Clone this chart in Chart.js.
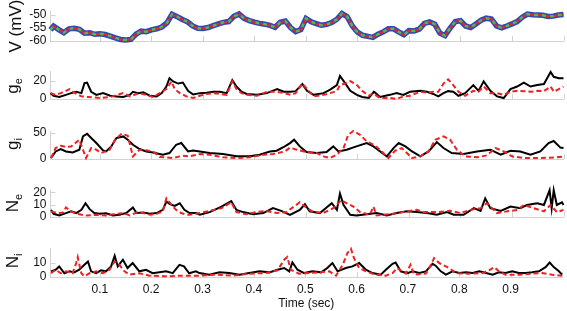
<!DOCTYPE html>
<html>
<head>
<meta charset="utf-8">
<script src="https://cdn.jsdelivr.net/npm/chart.js@4/dist/chart.umd.min.js"></script>
<style>
  html, body { margin: 0; padding: 0; background: #fff; }
  #wrap { position: relative; width: 567px; height: 311px; overflow: hidden; font-family: "Liberation Sans", Arial, sans-serif; }
  #wrap canvas { position: absolute; left: 0; top: 0; }
  .ylab { position: absolute; transform: translate(-50%, -50%) rotate(-90deg); white-space: nowrap; font-size: 17px; color: #111; line-height: 1; }
  .ylab sub { font-size: 11px; vertical-align: -4px; }
</style>
</head>
<body>
<div id="wrap">
  <canvas id="pV" width="567" height="311"></canvas>
  <canvas id="pGe" width="567" height="311"></canvas>
  <canvas id="pGi" width="567" height="311"></canvas>
  <canvas id="pNe" width="567" height="311"></canvas>
  <canvas id="pNi" width="567" height="311"></canvas>
  <div class="ylab" style="left:15px;top:26px">V (mV)</div>
  <div class="ylab" style="left:14px;top:86px">g<sub>e</sub></div>
  <div class="ylab" style="left:14px;top:144px">g<sub>i</sub></div>
  <div class="ylab" style="left:14px;top:203px">N<sub>e</sub></div>
  <div class="ylab" style="left:14px;top:261px">N<sub>i</sub></div>
</div>
<script>
// tick values / labels
const xTicks = [0.1, 0.2, 0.3, 0.4, 0.5, 0.6, 0.7, 0.8, 0.9, 1.0];
const xTickLabels = ['0.1', '0.2', '0.3', '0.4', '0.5', '0.6', '0.7', '0.8', '0.9', ''];
const vTicks = [-60, -55, -50];
const geTicks = [0, 20];
const giTicks = [0, 50];
const neTicks = [0, 10, 20];
const niTicks = [0, 10];

// membrane potential (same trace drawn three times)
const vTime = [0.004, 0.01, 0.02, 0.03, 0.04, 0.05, 0.06, 0.07, 0.08, 0.09, 0.1, 0.11, 0.12, 0.13, 0.14, 0.15, 0.16, 0.17, 0.18, 0.19, 0.2,
  0.21, 0.22, 0.23, 0.24, 0.25, 0.26, 0.27, 0.28, 0.29, 0.3, 0.31, 0.32, 0.33, 0.34, 0.35, 0.36, 0.37, 0.38, 0.39, 0.4,
  0.41, 0.42, 0.43, 0.44, 0.45, 0.46, 0.47, 0.48, 0.49, 0.5, 0.51, 0.52, 0.53, 0.54, 0.55, 0.56, 0.57, 0.58, 0.59, 0.6,
  0.61, 0.62, 0.63, 0.64, 0.65, 0.66, 0.67, 0.68, 0.69, 0.7, 0.71, 0.72, 0.73, 0.74, 0.75, 0.76, 0.77, 0.78, 0.79, 0.8,
  0.81, 0.82, 0.83, 0.84, 0.85, 0.86, 0.87, 0.88, 0.89, 0.9, 0.91, 0.92, 0.93, 0.94, 0.95, 0.96, 0.97, 0.98, 0.99, 1.0];
const vTrace = [-55.7, -54.3, -55.6, -56.8, -55.3, -55.1, -55.5, -57.0, -56.8, -57.4, -57.2, -57.5, -58.1, -58.8, -59.4, -59.6, -59.4, -57.4, -56.2, -56.4, -55.7,
  -55.3, -54.6, -53.0, -49.7, -50.6, -51.7, -52.6, -54.2, -55.1, -55.2, -54.8, -54.1, -53.4, -52.8, -52.5, -50.5, -49.6, -51.3, -52.1, -52.7,
  -53.2, -53.5, -54.0, -54.7, -52.8, -52.3, -54.8, -56.4, -55.6, -51.3, -52.6, -53.3, -53.9, -53.6, -52.9, -51.6, -49.4, -50.6, -54.2, -56.6,
  -57.8, -58.2, -58.6, -57.4, -56.5, -55.3, -55.3, -56.5, -57.6, -56.0, -56.1, -55.4, -53.2, -52.6, -53.5, -57.0, -57.9, -55.0, -52.5, -52.2,
  -54.2, -54.8, -53.4, -52.0, -51.2, -51.5, -54.2, -54.9, -54.2, -53.4, -52.5, -50.8, -49.6, -49.9, -50.0, -50.1, -50.5, -50.4, -50.0, -49.8];

// g_e
const geTimeA = [0.004, 0.01, 0.021, 0.034, 0.044, 0.054, 0.064, 0.07, 0.075, 0.083, 0.093, 0.106, 0.12, 0.132, 0.145, 0.158, 0.164, 0.174, 0.184, 0.197,
  0.21, 0.22, 0.229, 0.235, 0.242, 0.252, 0.261, 0.271, 0.281, 0.294, 0.307, 0.32, 0.333, 0.346, 0.357, 0.365, 0.375, 0.385, 0.405, 0.424,
  0.444, 0.457, 0.47, 0.48, 0.493, 0.502, 0.515, 0.534, 0.547, 0.56, 0.566, 0.576, 0.586, 0.599, 0.609, 0.622, 0.632, 0.644, 0.663, 0.676,
  0.689, 0.702, 0.722, 0.735, 0.747, 0.757, 0.767, 0.776, 0.786, 0.796, 0.809, 0.825, 0.835, 0.845, 0.858, 0.871, 0.884, 0.897, 0.91, 0.923,
  0.936, 0.949, 0.962, 0.975, 0.981, 0.991, 1.0];
const geA = [6.5, 3.6, 2.2, 4.6, 6.5, 8, 6.5, 17.5, 18.2, 8, 4.6, 6.5, 3.6, 2.9, 2.2, 4.6, 8, 6.5, 7.3, 3.6,
  2.9, 6.5, 13.8, 23, 19.5, 17.1, 18.2, 9, 5, 6.5, 6.9, 8, 8, 6.5, 21, 13.8, 8, 5.6, 4.6, 6.5,
  11, 8, 8, 8.7, 16.5, 9, 4.6, 6.5, 10.3, 15.4, 25.5, 17.5, 9, 4.6, 2.2, 1.1, 8, 2.2, 4.6, 6.5,
  4.6, 8, 9, 8, 5.6, 2.9, 6.5, 8.7, 8, 3.6, 6.5, 15.4, 9, 19.5, 9, 2.9, 1.1, 11, 13.8, 18.2,
  13.8, 15.4, 16.5, 30, 24.6, 23, 23];
const geTimeB = [0.004, 0.014, 0.024, 0.034, 0.041, 0.05, 0.064, 0.077, 0.1, 0.12, 0.145, 0.158, 0.177, 0.19, 0.203, 0.216, 0.229, 0.239, 0.245, 0.255,
  0.268, 0.281, 0.294, 0.307, 0.32, 0.333, 0.346, 0.357, 0.365, 0.375, 0.385, 0.405, 0.424, 0.444, 0.457, 0.47, 0.48, 0.493, 0.502, 0.515,
  0.534, 0.547, 0.56, 0.566, 0.576, 0.586, 0.599, 0.609, 0.622, 0.63, 0.644, 0.663, 0.676, 0.689, 0.702, 0.722, 0.735, 0.747, 0.757, 0.767,
  0.776, 0.786, 0.796, 0.809, 0.825, 0.835, 0.845, 0.858, 0.871, 0.884, 0.897, 0.91, 0.923, 0.936, 0.949, 0.962, 0.975, 0.981, 0.991, 1.0];
const geB = [6.5, 4.6, 6.5, 9, 11, 6.9, 2.9, 2.2, 1.1, 2.2, 6.5, 2.9, 6.5, 4.6, 2.2, 6.5, 11, 19.5, 11, 6.5,
  2.9, 1.1, 3.6, 5.6, 6.5, 5.6, 4.6, 19.5, 11, 6.5, 4.6, 3.6, 8, 8, 6.5, 4.6, 6.5, 17.1, 11, 2.9,
  4.6, 6.5, 9, 15.4, 17.1, 19.8, 15.4, 9, 3.6, 6, 1.1, 1.1, 0, 2.9, 3.6, 8, 6.9, 8, 8, 17.1,
  21.8, 15.4, 8, 3.6, 9, 8, 13.8, 6.5, 6.5, 4.6, 8, 9, 8.7, 8, 9, 8.7, 13.8, 8, 11, 13.8];

// g_i
const giTimeA = [0.005, 0.014, 0.024, 0.034, 0.047, 0.06, 0.067, 0.075, 0.083, 0.093, 0.106, 0.112, 0.122, 0.132, 0.145, 0.154, 0.164, 0.177, 0.19, 0.203,
  0.222, 0.235, 0.248, 0.258, 0.271, 0.281, 0.294, 0.313, 0.339, 0.365, 0.391, 0.41, 0.43, 0.443, 0.459, 0.469, 0.477, 0.488, 0.501, 0.521,
  0.54, 0.553, 0.563, 0.579, 0.598, 0.618, 0.631, 0.644, 0.657, 0.67, 0.68, 0.693, 0.706, 0.722, 0.738, 0.754, 0.767, 0.783, 0.806, 0.832,
  0.858, 0.878, 0.897, 0.916, 0.936, 0.955, 0.971, 0.981, 0.994, 1.0];
const giA = [2, 14.6, 19.2, 14.6, 12.7, 17.9, 43.5, 48.7, 40.4, 30.8, 16.5, 14.6, 24.2, 40.4, 43.5, 37.1, 27.5, 19.2, 14.6, 12.7,
  8.3, 11.5, 27.5, 30.8, 14.6, 16.5, 14.6, 11.5, 9.6, 5.1, 5.1, 8.3, 14.6, 16, 24.3, 30.7, 37.1, 24.3, 13.4, 11.5,
  13.4, 24.3, 14.6, 17.9, 24.3, 30.7, 24.3, 14.6, 5.1, 21.1, 30.7, 24.3, 14.6, 5.1, 14.6, 32.6, 21.1, 11.5, 9.6, 14.6,
  17.9, 8.3, 16, 14.6, 8.3, 14.6, 30.7, 34.8, 22, 21.1];
const giTimeB = [0.005, 0.014, 0.024, 0.034, 0.044, 0.06, 0.067, 0.073, 0.083, 0.093, 0.102, 0.119, 0.129, 0.142, 0.154, 0.164, 0.177, 0.193, 0.206, 0.216,
  0.242, 0.261, 0.274, 0.294, 0.313, 0.339, 0.365, 0.391, 0.417, 0.436, 0.459, 0.469, 0.482, 0.501, 0.521, 0.534, 0.547, 0.56, 0.573, 0.582,
  0.592, 0.605, 0.618, 0.634, 0.647, 0.66, 0.673, 0.686, 0.696, 0.706, 0.722, 0.738, 0.751, 0.767, 0.78, 0.793, 0.809, 0.832, 0.851, 0.868,
  0.884, 0.9, 0.923, 0.955, 0.987, 1.0];
const giB = [2, 21.2, 25.6, 23, 24.2, 37.1, 17.9, 2, 21.2, 17.9, 11.5, 17.9, 37.1, 48.7, 44.8, 5, 17.9, 16.5, 12.7, 3.8,
  2, 6.3, 5.1, 9.6, 8.3, 3.2, 1.9, 3.2, 8.3, 9.6, 14.6, 22, 17.9, 13.4, 11.5, 5.1, 1.9, 8.3, 21.1, 46.7,
  54, 46.7, 33.9, 26.2, 14.6, 1.9, 16, 21.1, 11.5, 1.9, 5.1, 14.6, 37.1, 43.5, 37.1, 17.9, 5.1, 3.2, 7, 21.1,
  14.6, 5.1, 1.9, 1.9, 3.2, 4.5];

// N_e
const neTimeA = [0.005, 0.01, 0.021, 0.034, 0.044, 0.054, 0.064, 0.072, 0.08, 0.089, 0.099, 0.112, 0.125, 0.138, 0.151, 0.164, 0.171, 0.184, 0.197, 0.21,
  0.222, 0.229, 0.235, 0.245, 0.255, 0.264, 0.274, 0.287, 0.294, 0.313, 0.336, 0.355, 0.365, 0.378, 0.397, 0.417, 0.436, 0.452, 0.469, 0.488,
  0.498, 0.507, 0.527, 0.54, 0.55, 0.56, 0.566, 0.573, 0.586, 0.598, 0.618, 0.637, 0.657, 0.676, 0.696, 0.715, 0.735, 0.754, 0.774, 0.787,
  0.806, 0.826, 0.839, 0.848, 0.858, 0.878, 0.897, 0.916, 0.929, 0.949, 0.962, 0.973, 0.977, 0.981, 0.987, 0.997, 1.0];
const neA = [5.8, 2.6, 1.2, 3.2, 4.6, 3.2, 5.8, 11.2, 6.4, 3.2, 2.6, 3, 1.2, 1.8, 3.2, 7.8, 3.2, 3.6, 2.6, 3.2,
  5.8, 12.6, 10.7, 9.1, 11.2, 5.8, 3.2, 3.2, 1.8, 4, 8.5, 13, 5.8, 4, 2.3, 3.2, 7.2, 5, 1.8, 5.8,
  10.4, 4.6, 3.2, 7.7, 11.2, 5.8, 19.1, 9.8, 1.8, 1.3, 2.3, 3.2, 1.3, 3.2, 4.6, 4, 3.2, 1.8, 4, 1.8,
  1.8, 7.2, 5, 15.2, 7.2, 5, 8.5, 7.2, 9.8, 11.2, 9.8, 21.8, 7.2, 21.8, 9.8, 12, 9.8];
const neTimeB = [0.005, 0.018, 0.028, 0.034, 0.044, 0.054, 0.073, 0.093, 0.112, 0.132, 0.145, 0.158, 0.171, 0.184, 0.197, 0.21, 0.222, 0.229, 0.239, 0.248,
  0.258, 0.268, 0.274, 0.294, 0.313, 0.336, 0.355, 0.365, 0.384, 0.404, 0.423, 0.443, 0.462, 0.488, 0.498, 0.514, 0.533, 0.553, 0.569, 0.579,
  0.592, 0.605, 0.624, 0.631, 0.637, 0.663, 0.689, 0.715, 0.728, 0.754, 0.78, 0.8, 0.819, 0.839, 0.851, 0.871, 0.891, 0.91, 0.923, 0.942,
  0.962, 0.975, 0.987, 1.0];
const neB = [4.6, 3.2, 3.6, 7.8, 4.6, 2.6, 1.2, 1.8, 1.2, 2.6, 3.2, 1.2, 3.6, 3.2, 1.8, 2.6, 4.6, 15.2, 9.8, 5.8,
  3.2, 1.8, 1.8, 3.2, 5, 7.2, 12, 4, 2.3, 4, 5, 3.2, 4, 12, 8.5, 4, 3.2, 7.2, 13.8, 11.2,
  8.5, 4, 1.8, 8.5, 1.3, 2.3, 4, 5.8, 4, 4, 5, 3.2, 5.8, 7.2, 11.2, 3.2, 4.6, 5.8, 9.8, 7.2,
  4.6, 9.8, 4, 5.8];

// N_i
const niTimeA = [0.005, 0.014, 0.021, 0.031, 0.041, 0.05, 0.06, 0.07, 0.077, 0.083, 0.093, 0.102, 0.112, 0.122, 0.129, 0.135, 0.145, 0.154, 0.164, 0.177,
  0.19, 0.203, 0.216, 0.229, 0.242, 0.255, 0.264, 0.274, 0.287, 0.294, 0.313, 0.333, 0.352, 0.372, 0.391, 0.411, 0.43, 0.446, 0.459, 0.469,
  0.475, 0.485, 0.498, 0.514, 0.531, 0.543, 0.553, 0.563, 0.579, 0.592, 0.605, 0.618, 0.631, 0.647, 0.657, 0.67, 0.676, 0.686, 0.699, 0.709,
  0.722, 0.735, 0.748, 0.754, 0.764, 0.774, 0.787, 0.8, 0.813, 0.826, 0.839, 0.852, 0.865, 0.877, 0.89, 0.903, 0.916, 0.929, 0.942, 0.955,
  0.968, 0.976, 0.984, 0.994, 1.0];
const niA = [3.9, 5, 7.3, 2.6, 3.9, 3.2, 5, 8.4, 10.7, 3.9, 2.6, 4.6, 3.9, 7.3, 14.6, 7.3, 11.9, 6.2, 9.6, 3.9,
  5, 2.6, 3.2, 3.9, 2.6, 8.4, 7.3, 2.6, 3.9, 2.7, 1.6, 3.2, 2.7, 1.6, 2.7, 3.9, 3.2, 5, 6.2, 3.9,
  10, 5, 2.7, 3.9, 3.2, 6.2, 9.6, 3.9, 6.2, 7.3, 9.6, 5, 2.7, 1.6, 5, 9.1, 10, 3.9, 2.7, 3.9,
  2.7, 3.9, 9.1, 7.8, 3.9, 1.6, 3.9, 2.7, 3.2, 2.7, 3.9, 2.7, 1.6, 3.2, 2.7, 3.9, 2.7, 2.7, 3.2, 3.9,
  6.8, 10, 6.8, 3.9, 1.6];
const niTimeB = [0.005, 0.014, 0.024, 0.034, 0.047, 0.054, 0.057, 0.064, 0.07, 0.08, 0.093, 0.106, 0.119, 0.129, 0.138, 0.148, 0.158, 0.177, 0.197, 0.229,
  0.261, 0.294, 0.326, 0.358, 0.391, 0.423, 0.446, 0.459, 0.465, 0.472, 0.488, 0.507, 0.527, 0.547, 0.56, 0.573, 0.582, 0.589, 0.595, 0.605,
  0.618, 0.637, 0.657, 0.67, 0.679, 0.696, 0.705, 0.712, 0.735, 0.744, 0.751, 0.761, 0.774, 0.783, 0.793, 0.819, 0.845, 0.858, 0.868, 0.877,
  0.89, 0.916, 0.942, 0.962, 0.981, 1.0];
const niB = [2.6, 5, 2.6, 3.9, 2.6, 9.6, 13.7, 2.6, 0.5, 2.6, 3.9, 2.6, 5, 10.7, 8.4, 3.9, 1.6, 2.6, 0.9, 0.5,
  0.9, 0.9, 1.6, 0.9, 2.3, 2.7, 4.6, 11.9, 13.7, 5, 2.3, 2.7, 3.2, 3.9, 0.9, 8.4, 16.4, 19.5, 13, 6.2,
  3.9, 1.6, 0.9, 2.7, 6.2, 2.3, 8.4, 1.6, 2.3, 7.8, 13, 9.6, 7.3, 5.5, 2.7, 2.3, 2.7, 4.6, 6.8, 3.9,
  1.6, 1.6, 2.3, 2.7, 1.6, 0.9];

const axisColor = '#d2d2d2';
const tickFont = { family: '"Liberation Sans", Arial, sans-serif', size: 12 };

function pts(ts, ys) {
    return ts.map((t, i) => ({ x: t, y: ys[i] }));
}

// short tick marks pointing into the plot, as in the original figure
const innerTicks = {
    id: 'innerTicks',
    beforeDatasetsDraw(chart) {
        const { ctx, chartArea, scales } = chart;
        ctx.save();
        ctx.strokeStyle = axisColor;
        ctx.lineWidth = 1;
        ctx.beginPath();
        scales.x.ticks.forEach(t => {
            const px = Math.round(scales.x.getPixelForValue(t.value)) + 0.5;
            ctx.moveTo(px, chartArea.bottom);
            ctx.lineTo(px, chartArea.bottom - 5);
        });
        scales.y.ticks.forEach(t => {
            const py = Math.round(scales.y.getPixelForValue(t.value)) + 0.5;
            ctx.moveTo(chartArea.left, py);
            ctx.lineTo(chartArea.left + 5, py);
        });
        ctx.stroke();
        ctx.restore();
    }
};

function makePanel(id, top, bottom, yMin, yMax, yTicks, datasets, last) {
    const xHeight = last ? 34 : 0;
    return new Chart(document.getElementById(id), {
        type: 'line',
        data: { datasets: datasets },
        plugins: [innerTicks],
        options: {
            responsive: false,
            animation: false,
            devicePixelRatio: 1,
            layout: { padding: { top: top, bottom: 311 - bottom - xHeight, left: 0, right: 3.5 } },
            elements: { point: { radius: 0 }, line: { tension: 0 } },
            plugins: { legend: { display: false }, tooltip: { enabled: false } },
            scales: {
                x: {
                    type: 'linear',
                    min: 0.004,
                    max: 1.0,
                    afterFit: s => { s.height = xHeight; },
                    afterBuildTicks: s => { s.ticks = xTicks.map(v => ({ value: v })); },
                    grid: { display: true, drawOnChartArea: false, drawTicks: false },
                    border: { display: true, color: axisColor, width: 1 },
                    ticks: {
                        display: last,
                        padding: 5,
                        color: '#111',
                        font: tickFont,
                        autoSkip: false,
                        maxRotation: 0,
                        callback: (v, i) => xTickLabels[i]
                    },
                    title: {
                        display: last,
                        text: 'Time (sec)',
                        color: '#111',
                        font: tickFont,
                        padding: { top: 2, bottom: 0 }
                    }
                },
                y: {
                    min: yMin,
                    max: yMax,
                    afterFit: s => { s.width = 50.5; },
                    afterBuildTicks: s => { s.ticks = yTicks.map(v => ({ value: v })); },
                    grid: { display: true, drawOnChartArea: false, drawTicks: false },
                    border: { display: true, color: axisColor, width: 1 },
                    ticks: { padding: 4, color: '#111', font: tickFont, autoSkip: false }
                }
            }
        }
    });
}

// first dataset is painted last in Chart.js, so the red trace goes first to sit on top
function pair(tA, a, tB, b) {
    return [
        { data: pts(tB, b), borderColor: '#ee2024', borderWidth: 2, borderDash: [5, 3], clip: false },
        { data: pts(tA, a), borderColor: '#000', borderWidth: 2, clip: false }
    ];
}

makePanel('pV', 10, 41, -60, -48.5, vTicks, [
    { data: pts(vTime, vTrace), borderColor: '#e8262a', borderWidth: 2, borderDash: [4, 4], borderDashOffset: 4, clip: false },
    { data: pts(vTime, vTrace), borderColor: '#5cb646', borderWidth: 2.5, borderDash: [4, 4], clip: false },
    { data: pts(vTime, vTrace), borderColor: '#3347b8', borderWidth: 5.5, clip: false }
], false);
makePanel('pGe', 71, 99, 0, 31, geTicks, pair(geTimeA, geA, geTimeB, geB), false);
makePanel('pGi', 131, 159, 0, 54, giTicks, pair(giTimeA, giA, giTimeB, giB), false);
makePanel('pNe', 190, 217, 0, 22, neTicks, pair(neTimeA, neA, neTimeB, neB), false);
makePanel('pNi', 248, 277, 0, 20, niTicks, pair(niTimeA, niA, niTimeB, niB), true);
</script>
</body>
</html>
